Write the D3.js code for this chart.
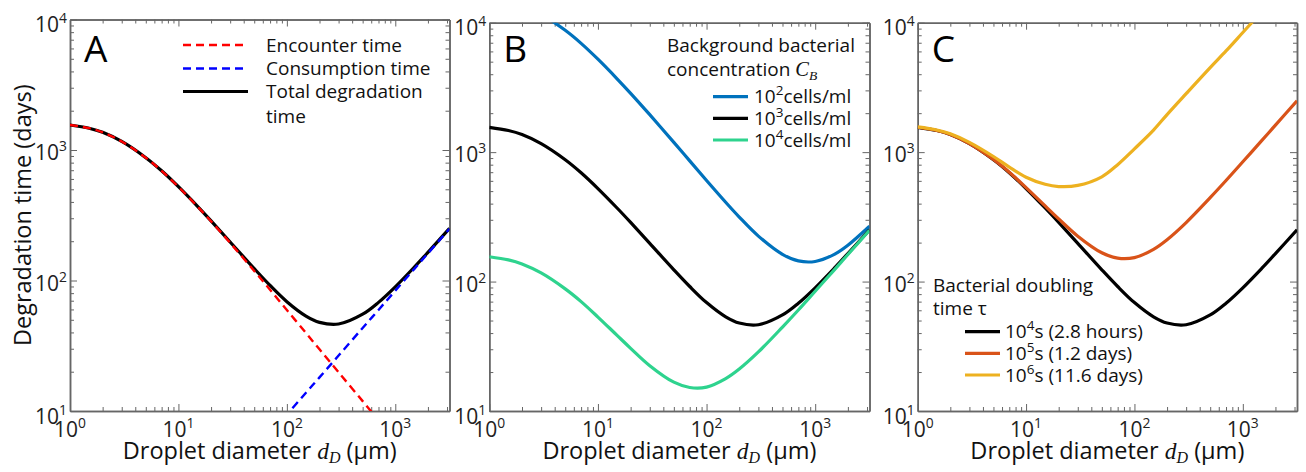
<!DOCTYPE html>
<html>
<head>
<meta charset="utf-8">
<script src="https://cdn.jsdelivr.net/npm/d3@7"></script>
<style>
body { margin: 0; background: #fff; }
svg { display: block; font-family: "Open Sans", sans-serif; }
.frame .domain { stroke: #666; stroke-width: 1.5; }
.frame .tick line { stroke: #666; stroke-width: 1; }
</style>
</head>
<body>
<svg id="chart"></svg>
<script>
var w = 1306, h = 472;

// droplet diameter (um) where values were read
var diameter = [1, 1.5, 2, 3, 5, 7, 10, 15, 20, 30, 50, 70, 100, 150, 200, 300, 500, 700, 1000, 1500, 2000, 3162];

// panel A (days)
var encounterTime = [1555, 1469, 1367, 1163, 873, 692, 522, 368.6, 284.5, 194.4, 118.4, 84.9, 59.4, 39.6, 29.7, 19.8, 11.9, 8.49, 5.94, 3.96, 2.97, 1.88];
var consumptionTime = [0.118, 0.174, 0.228, 0.335, 0.545, 0.75, 1.05, 1.55, 2.03, 2.99, 4.85, 6.68, 9.38, 13.8, 18.1, 26.6, 43.3, 59.5, 83.6, 122.8, 161.4, 249];
var totalTime = [1555, 1469.2, 1367.2, 1163.3, 873.5, 692.8, 523.1, 370.2, 286.5, 197.4, 123.3, 91.6, 68.8, 53.4, 47.8, 46.4, 55.2, 68.0, 89.5, 126.8, 164.4, 250.9];

// panel B, background concentration
var conc1e2 = [15550, 14690, 13670, 11630, 8731, 6921, 5221, 3688, 2847, 1947, 1189, 855.7, 603.4, 409.8, 315.1, 224.6, 162.3, 144.4, 143, 162.4, 191.1, 267.8];
var conc1e3 = totalTime;
var conc1e4 = [155.6, 147.1, 136.9, 116.6, 87.8, 70.0, 53.2, 38.4, 30.5, 22.4, 16.7, 15.2, 15.3, 17.8, 21.1, 28.6, 44.5, 60.3, 84.2, 123.2, 161.7, 249.2];

// panel C, doubling time
var tau1e4 = totalTime;
var tau1e5 = [1556, 1471, 1369, 1166, 878.5, 699.5, 532.5, 384.1, 304.8, 224.3, 166.9, 151.7, 153.2, 177.6, 210.7, 285.8, 444.9, 603.5, 841.9, 1232, 1617, 2492];
var tau1e6 = [1567, 1484, 1385, 1190, 925, 766, 640, 564, 542, 553, 645, 800, 1060, 1480, 1950, 2830, 4500, 6050, 8400, 12200, 15900, 24500];

var xTickExp = [0, 1, 2, 3];
var yTickExp = [1, 2, 3, 4];
var xMax = 3162;

var svg = d3.select("#chart").attr("width", w).attr("height", h);

var panels = [
    { id: "A", x0: 70, x1: 449.5, y0: 19.5, y1: 411 },
    { id: "B", x0: 489.3, x1: 869.5, y0: 22.7, y1: 411 },
    { id: "C", x0: 917.7, x1: 1297, y0: 22.7, y1: 411 }
];

function series(vals) {
    return diameter.map(function(d, i) { return { d: d, v: vals[i] }; });
}

function powLabel(sel, base, exp, size) {
    sel.append("tspan").text(base);
    sel.append("tspan").attr("font-size", size * 0.66).attr("dy", -size * 0.42).text(exp);
}

function drawPanel(p) {
    var x = d3.scaleLog().domain([1, xMax]).range([p.x0, p.x1]);
    var y = d3.scaleLog().domain([10, 1e4]).range([p.y1, p.y0]);
    var g = svg.append("g");

    svg.append("clipPath").attr("id", "clip" + p.id)
        .append("rect")
        .attr("x", p.x0).attr("y", p.y0)
        .attr("width", p.x1 - p.x0).attr("height", p.y1 - p.y0);

    var majorX = xTickExp.map(function(e) { return Math.pow(10, e); });
    var majorY = yTickExp.map(function(e) { return Math.pow(10, e); });
    var minorX = [], minorY = [];
    xTickExp.forEach(function(e) {
        for (var k = 2; k < 10; k++) { var v = k * Math.pow(10, e); if (v <= xMax) minorX.push(v); }
    });
    yTickExp.slice(0, 3).forEach(function(e) {
        for (var k = 2; k < 10; k++) minorY.push(k * Math.pow(10, e));
    });

    var frame = g.append("g").attr("class", "frame");
    function addAxis(axisFn, scale, ticks, len, tr) {
        frame.append("g").attr("transform", tr)
            .call(axisFn(scale).tickValues(ticks).tickSizeInner(-len).tickSizeOuter(0).tickFormat(""));
    }
    addAxis(d3.axisBottom, x, majorX, 7, "translate(0," + p.y1 + ")");
    addAxis(d3.axisBottom, x, minorX, 4, "translate(0," + p.y1 + ")");
    addAxis(d3.axisTop, x, majorX, 7, "translate(0," + p.y0 + ")");
    addAxis(d3.axisTop, x, minorX, 4, "translate(0," + p.y0 + ")");
    addAxis(d3.axisLeft, y, majorY, 7, "translate(" + p.x0 + ",0)");
    addAxis(d3.axisLeft, y, minorY, 4, "translate(" + p.x0 + ",0)");
    addAxis(d3.axisRight, y, majorY, 7, "translate(" + p.x1 + ",0)");
    addAxis(d3.axisRight, y, minorY, 4, "translate(" + p.x1 + ",0)");

    // tick labels
    xTickExp.forEach(function(e) {
        var t = g.append("text").attr("x", x(Math.pow(10, e))).attr("y", 437)
            .attr("text-anchor", "middle").attr("font-size", 21).attr("fill", "#222");
        powLabel(t, "10", e, 21);
    });
    yTickExp.forEach(function(e, i) {
        var off = (i === 0 || i === 3) ? 12.5 : 10;
        var t = g.append("text").attr("x", p.x0 - 3).attr("y", y(Math.pow(10, e)) + off)
            .attr("text-anchor", "end").attr("font-size", 21).attr("fill", "#222");
        powLabel(t, "10", e, 21);
    });

    // x label
    var xl = g.append("text").attr("x", (p.x0 + p.x1) / 2).attr("y", 459)
        .attr("text-anchor", "middle").attr("font-size", 23.5).attr("fill", "#111");
    xl.append("tspan").text("Droplet diameter ");
    xl.append("tspan").attr("font-family", "'Liberation Serif', serif").attr("font-style", "italic").text("d");
    xl.append("tspan").attr("font-family", "'Liberation Serif', serif").attr("font-style", "italic")
        .attr("font-size", 16).attr("dy", 4).text("D");
    xl.append("tspan").attr("dy", -4).text(" (\u00b5m)");

    // panel letter
    g.append("text").attr("x", p.x0 + 14).attr("y", 62).attr("font-size", 37).attr("fill", "#000").text(p.id);

    p.x = x; p.y = y; p.g = g;
    return p;
}

function drawLine(p, vals, color, width, dash) {
    var line = d3.line()
        .x(function(d) { return p.x(d.d); })
        .y(function(d) { return p.y(d.v); })
        .curve(d3.curveCatmullRom.alpha(0.5));
    var path = p.g.append("path")
        .datum(series(vals))
        .attr("clip-path", "url(#clip" + p.id + ")")
        .attr("fill", "none")
        .attr("stroke", color)
        .attr("stroke-width", width)
        .attr("stroke-linejoin", "round")
        .attr("d", line);
    if (dash) path.attr("stroke-dasharray", dash);
}

var pA = drawPanel(panels[0]);
var pB = drawPanel(panels[1]);
var pC = drawPanel(panels[2]);

// panel A curves
drawLine(pA, totalTime, "#000", 3.2);
drawLine(pA, encounterTime, "#ff0000", 2.4, "8,5");
drawLine(pA, consumptionTime, "#0000ff", 2.4, "8,5");

// panel B curves
drawLine(pB, conc1e2, "#0072bd", 3.2);
drawLine(pB, conc1e3, "#000", 3.2);
drawLine(pB, conc1e4, "#2ed38e", 3.2);

// panel C curves
drawLine(pC, tau1e4, "#000", 3.2);
drawLine(pC, tau1e5, "#d95319", 3.2);
drawLine(pC, tau1e6, "#edb120", 3.2);

// y label
svg.append("text")
    .attr("transform", "translate(31," + ((panels[0].y0 + panels[0].y1) / 2) + ") rotate(-90)")
    .attr("text-anchor", "middle").attr("font-size", 23.5).attr("fill", "#111")
    .text("Degradation time (days)");

// legend A
var legA = [
    { label: "Encounter time", color: "#ff0000", dash: "8,5", w: 2.4, y: 45 },
    { label: "Consumption time", color: "#0000ff", dash: "8,5", w: 2.4, y: 68.5 },
    { label: "Total degradation", color: "#000", dash: null, w: 3.2, y: 91.5 }
];
legA.forEach(function(l) {
    var ln = svg.append("line").attr("x1", 183).attr("x2", 248).attr("y1", l.y).attr("y2", l.y)
        .attr("stroke", l.color).attr("stroke-width", l.w);
    if (l.dash) ln.attr("stroke-dasharray", l.dash);
    svg.append("text").attr("x", 266).attr("y", l.y + 6.5).attr("font-size", 19).attr("fill", "#111").text(l.label);
});
svg.append("text").attr("x", 266).attr("y", 123).attr("font-size", 19).attr("fill", "#111").text("time");

// legend B
svg.append("text").attr("x", 667).attr("y", 52).attr("font-size", 19).attr("fill", "#111").text("Background bacterial");
var cb = svg.append("text").attr("x", 667).attr("y", 75.5).attr("font-size", 19).attr("fill", "#111");
cb.append("tspan").text("concentration ");
cb.append("tspan").attr("font-family", "'Liberation Serif', serif").attr("font-style", "italic").attr("font-size", 20.5).text("C");
cb.append("tspan").attr("font-family", "'Liberation Serif', serif").attr("font-style", "italic").attr("font-size", 13.5).attr("dy", 4).text("B");

var legB = [
    { exp: "2", color: "#0072bd", y: 96.7 },
    { exp: "3", color: "#000", y: 118.3 },
    { exp: "4", color: "#2ed38e", y: 140 }
];
legB.forEach(function(l) {
    svg.append("line").attr("x1", 713).attr("x2", 748).attr("y1", l.y).attr("y2", l.y)
        .attr("stroke", l.color).attr("stroke-width", 3.2);
    var t = svg.append("text").attr("x", 754).attr("y", l.y + 6.5).attr("font-size", 19).attr("fill", "#111");
    t.append("tspan").text("10");
    t.append("tspan").attr("font-size", 13.5).attr("dy", -8).text(l.exp);
    t.append("tspan").attr("dy", 8).text("cells/ml");
});

// legend C
svg.append("text").attr("x", 933).attr("y", 291.5).attr("font-size", 19).attr("fill", "#111").text("Bacterial doubling");
svg.append("text").attr("x", 933).attr("y", 315).attr("font-size", 19).attr("fill", "#111").text("time \u03c4");
var legC = [
    { exp: "4", text: "s (2.8 hours)", color: "#000", y: 331.7 },
    { exp: "5", text: "s (1.2 days)", color: "#d95319", y: 353.3 },
    { exp: "6", text: "s (11.6 days)", color: "#edb120", y: 375 }
];
legC.forEach(function(l) {
    svg.append("line").attr("x1", 965).attr("x2", 1000).attr("y1", l.y).attr("y2", l.y)
        .attr("stroke", l.color).attr("stroke-width", 3.2);
    var t = svg.append("text").attr("x", 1005).attr("y", l.y + 6.5).attr("font-size", 19).attr("fill", "#111");
    t.append("tspan").text("10");
    t.append("tspan").attr("font-size", 13.5).attr("dy", -8).text(l.exp);
    t.append("tspan").attr("dy", 8).text(l.text);
});
</script>
</body>
</html>
